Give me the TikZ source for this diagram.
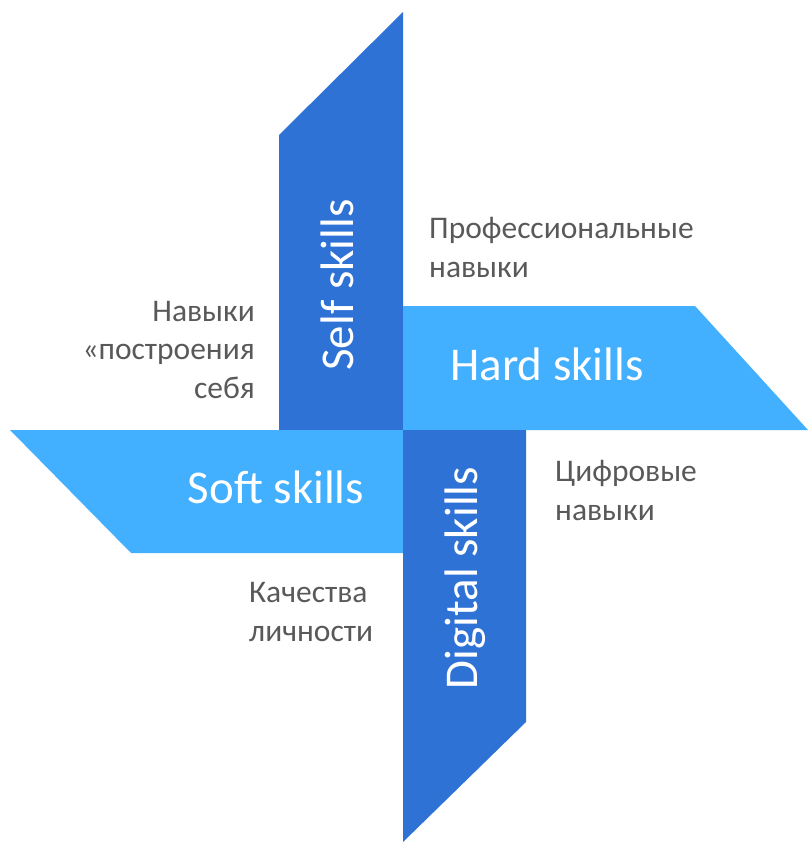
\documentclass[tikz,border=0pt]{standalone}
\usepackage{fontspec}
\setmainfont{Carlito}
\definecolor{darkb}{HTML}{2F72D6}
\definecolor{lightb}{HTML}{42AFFF}
\definecolor{txtgray}{HTML}{595959}
\begin{document}
\begin{tikzpicture}[x=1pt,y=-1pt,
  big/.style={text=white,font=\fontsize{47}{55}\selectfont,inner sep=0pt},
  small/.style={text=txtgray,font=\fontsize{31.5}{38.5}\selectfont,inner sep=0pt}]
\useasboundingbox (0,0) rectangle (808,842);
% shapes
\fill[darkb] (279,135) -- (403,12) -- (403,430) -- (279,430) -- cycle;
\fill[lightb] (403,306) -- (695,306) -- (808,430) -- (403,430) -- cycle;
\fill[lightb] (10,430) -- (403,430) -- (403,553) -- (131,553) -- cycle;
\fill[darkb] (403,430) -- (526,430) -- (526,722) -- (403,842) -- cycle;
% labels
\node[big,rotate=90,anchor=base] (self) at (353,285) {Self skills};
\node[big,anchor=base] (hard) at (547,380) {Hard skills};
\node[big,anchor=base] (soft) at (276,503) {Soft skills};
\node[big,rotate=90,anchor=base] (digital) at (477,578) {Digital skills};
% descriptions (base anchor = baseline of last line)
\node[small,anchor=base west,align=left] (prof) at (429,277) {Профессиональные\\навыки};
\node[small,anchor=base east,align=right] (build) at (255,398) {Навыки\\«построения\\себя};
\node[small,anchor=base west,align=left] (dig) at (555,520) {Цифровые\\навыки};
\node[small,anchor=base west,align=left] (pers) at (249,641) {Качества\\личности};
\end{tikzpicture}
\end{document}
